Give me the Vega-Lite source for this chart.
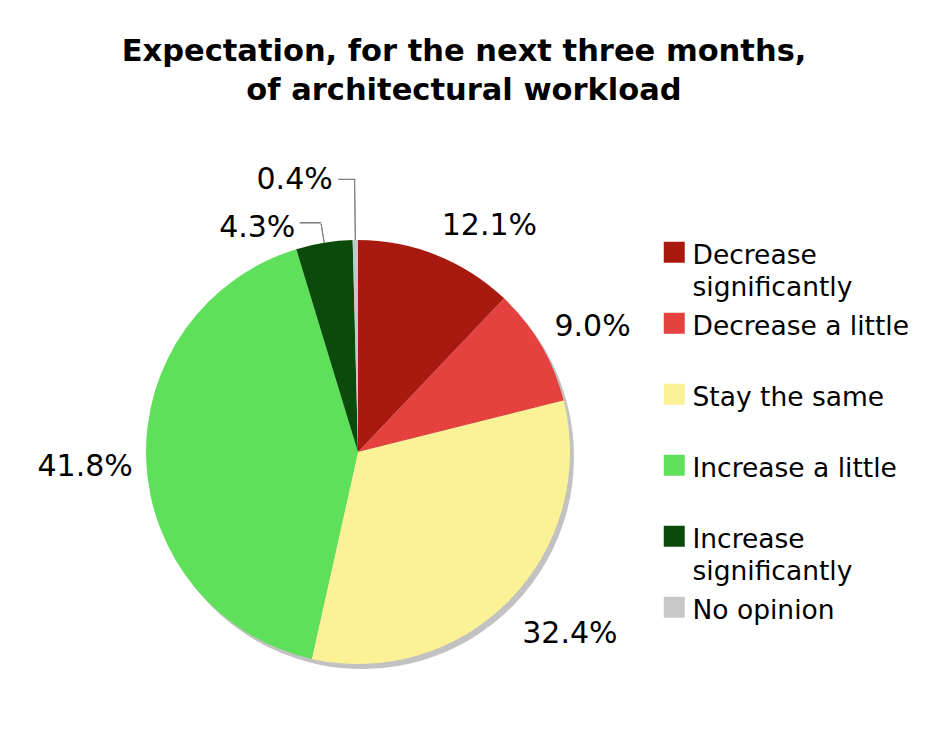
{
  "$schema": "https://vega.github.io/schema/vega-lite/v6.json",
  "width": 716,
  "height": 564,
  "autosize": {"type": "none"},
  "padding": {"left": 0, "top": 170, "right": 216, "bottom": 11},
  "background": "white",
  "config": {"view": {"stroke": null}},
  "title": {
    "text": ["Expectation, for the next three months,", "of architectural workload"],
    "font": "DejaVu Sans",
    "fontSize": 30.5,
    "fontWeight": "bold",
    "lineHeight": 39,
    "color": "black",
    "anchor": "middle",
    "frame": "group",
    "dx": 106,
    "offset": 58
  },
  "data": {
    "values": [
      {"idx": 1, "category": "Decrease significantly", "value": 0.121},
      {"idx": 2, "category": "Decrease a little", "value": 0.090},
      {"idx": 3, "category": "Stay the same", "value": 0.324},
      {"idx": 4, "category": "Increase a little", "value": 0.418},
      {"idx": 5, "category": "Increase significantly", "value": 0.043},
      {"idx": 6, "category": "No opinion", "value": 0.004}
    ]
  },
  "encoding": {
    "theta": {"field": "value", "type": "quantitative", "stack": true},
    "order": {"field": "idx", "type": "quantitative"}
  },
  "layer": [
    {
      "mark": {"type": "arc", "outerRadius": 212, "fill": "#c2c2c2", "xOffset": 4, "yOffset": 5}
    },
    {
      "mark": {"type": "arc", "outerRadius": 212},
      "encoding": {
        "color": {
          "field": "category",
          "type": "nominal",
          "sort": ["Decrease significantly", "Decrease a little", "Stay the same", "Increase a little", "Increase significantly", "No opinion"],
          "scale": {
            "domain": ["Decrease significantly", "Decrease a little", "Stay the same", "Increase a little", "Increase significantly", "No opinion"],
            "range": ["#a8190f", "#e3423e", "#fbf298", "#5fe05b", "#0b4a0b", "#c8c8c8"]
          },
          "legend": {
            "orient": "none",
            "legendX": 661,
            "legendY": 69,
            "title": null,
            "padding": 0,
            "symbolType": "square",
            "symbolSize": 441,
            "symbolStrokeWidth": 0,
            "symbolOpacity": 1,
            "labelFont": "DejaVu Sans",
            "labelFontSize": 26.5,
            "labelColor": "black",
            "labelLimit": 400,
            "labelOffset": 5,
            "labelBaseline": "top",
            "labelExpr": "datum.label == 'Decrease significantly' ? ['Decrease', 'significantly'] : datum.label == 'Increase significantly' ? ['Increase', 'significantly'] : datum.label",
            "gridAlign": "all",
            "rowPadding": 8,
            "encode": {"labels": {"update": {"lineHeight": {"value": 32}, "dy": {"value": -9}}}}
          }
        }
      }
    },
    {
      "mark": {"type": "arc", "innerRadius": 212, "outerRadius": 231, "padAngle": 1, "filled": false, "stroke": "#808080", "strokeWidth": 1},
      "encoding": {"strokeOpacity": {"condition": {"test": "datum.category === 'Increase significantly'", "value": 1}, "value": 0}}
    },
    {
      "mark": {"type": "arc", "innerRadius": 212, "outerRadius": 272, "padAngle": 1, "filled": false, "stroke": "#808080", "strokeWidth": 1},
      "encoding": {"strokeOpacity": {"condition": {"test": "datum.category === 'No opinion'", "value": 1}, "value": 0}}
    },
    {
      "mark": {"type": "text", "radius": 268, "dx": -5, "dy": 37, "font": "DejaVu Sans", "fontSize": 17.5, "color": "#808080", "align": "center", "baseline": "middle"},
      "encoding": {
        "text": {"value": "──"},
        "opacity": {"condition": {"test": "datum.category === 'Increase significantly'", "value": 1}, "value": 0}
      }
    },
    {
      "mark": {"type": "text", "radius": 268, "dx": -8, "dy": -4, "font": "DejaVu Sans", "fontSize": 14, "color": "#808080", "align": "center", "baseline": "middle"},
      "encoding": {
        "text": {"value": "──"},
        "opacity": {"condition": {"test": "datum.category === 'No opinion'", "value": 1}, "value": 0}
      }
    },
    {
      "mark": {"type": "text", "radius": 268, "dx": 3, "dy": 10, "font": "DejaVu Sans", "fontSize": 30, "color": "black", "align": "center", "baseline": "middle"},
      "encoding": {
        "text": {"field": "value", "type": "quantitative", "format": ".1%"},
        "opacity": {"condition": {"test": "datum.category === 'Decrease a little'", "value": 1}, "value": 0}
      }
    },
    {
      "mark": {"type": "text", "radius": 268, "dx": -5, "dy": 5, "font": "DejaVu Sans", "fontSize": 30, "color": "black", "align": "center", "baseline": "middle"},
      "encoding": {
        "text": {"field": "value", "type": "quantitative", "format": ".1%"},
        "opacity": {"condition": {"test": "datum.category === 'Increase a little'", "value": 1}, "value": 0}
      }
    },
    {
      "mark": {"type": "text", "radius": 268, "dx": 32, "dy": 23, "font": "DejaVu Sans", "fontSize": 30, "color": "black", "align": "center", "baseline": "middle"},
      "encoding": {
        "text": {"field": "value", "type": "quantitative", "format": ".1%"},
        "opacity": {"condition": {"test": "datum.category === 'Decrease significantly'", "value": 1}, "value": 0}
      }
    },
    {
      "mark": {"type": "text", "radius": 268, "dx": 20, "dy": -5, "font": "DejaVu Sans", "fontSize": 30, "color": "black", "align": "center", "baseline": "middle"},
      "encoding": {
        "text": {"field": "value", "type": "quantitative", "format": ".1%"},
        "opacity": {"condition": {"test": "datum.category === 'Stay the same'", "value": 1}, "value": 0}
      }
    },
    {
      "mark": {"type": "text", "radius": 268, "dx": -58, "dy": 41, "font": "DejaVu Sans", "fontSize": 30, "color": "black", "align": "center", "baseline": "middle"},
      "encoding": {
        "text": {"field": "value", "type": "quantitative", "format": ".1%"},
        "opacity": {"condition": {"test": "datum.category === 'Increase significantly'", "value": 1}, "value": 0}
      }
    },
    {
      "mark": {"type": "text", "radius": 268, "dx": -60, "dy": -4, "font": "DejaVu Sans", "fontSize": 30, "color": "black", "align": "center", "baseline": "middle"},
      "encoding": {
        "text": {"field": "value", "type": "quantitative", "format": ".1%"},
        "opacity": {"condition": {"test": "datum.category === 'No opinion'", "value": 1}, "value": 0}
      }
    }
  ]
}
